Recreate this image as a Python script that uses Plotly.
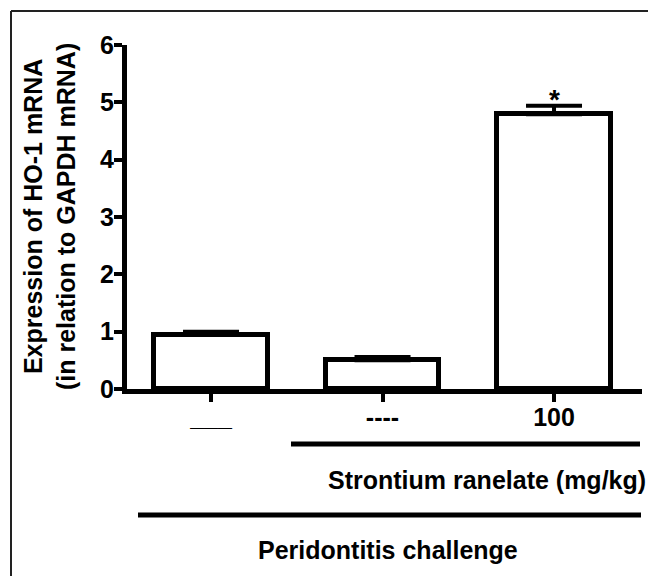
import plotly.graph_objects as go

# ---- data ----
categories = [0, 1, 2]
tick_labels = ["___", "----", "100"]
values = [0.95, 0.50, 4.79]
errors = [0.05, 0.06, 0.15]
y_ticks = [0, 1, 2, 3, 4, 5, 6]
y_title = "Expression of HO-1 mRNA<br>(in relation to GAPDH mRNA)"
strontium_label = "Strontium ranelate (mg/kg)"
challenge_label = "Peridontitis challenge"
star_label = "*"

W, H = 648, 576
L, R, T, B = 127, 6, 45, 187
PW, PH = W - L - R, H - T - B
FONT = "Liberation Sans, Arial, sans-serif"


def px(x):
    return (x - L) / PW


def py(y):
    return (H - B - y) / PH


fig = go.Figure()
fig.add_trace(go.Bar(
    x=categories, y=values, width=0.66,
    marker=dict(color="white", line=dict(color="black", width=5)),
    error_y=dict(type="data", symmetric=False, array=errors,
                 arrayminus=[0] * len(errors),
                 color="black", thickness=4, width=28),
    showlegend=False,
))

axis_font = dict(family=FONT, size=25, color="black", weight="bold")

fig.update_xaxes(
    range=[-0.49, 2.513], tickvals=categories, ticktext=tick_labels,
    showline=True, linecolor="black", linewidth=5,
    ticks="outside", ticklen=8, tickwidth=4, tickcolor="black",
    tickfont=axis_font, ticklabelstandoff=-6,
    showgrid=False, zeroline=False, fixedrange=True,
)
fig.update_yaxes(
    range=[0, 6], tickvals=y_ticks,
    showline=True, linecolor="black", linewidth=5,
    ticks="outside", ticklen=8, tickwidth=4, tickcolor="black",
    tickfont=axis_font, ticklabelstandoff=-5,
    showgrid=False, zeroline=False, fixedrange=True,
)

shapes = [
    # outer frame (left and top)
    dict(type="line", xref="paper", yref="paper", x0=px(11), x1=px(11),
         y0=py(11), y1=py(600), line=dict(color="#222", width=2)),
    dict(type="line", xref="paper", yref="paper", x0=px(11), x1=px(700),
         y0=py(11), y1=py(11), line=dict(color="#222", width=2)),
    # strontium group line
    dict(type="line", xref="paper", yref="paper", x0=px(291), x1=px(640),
         y0=py(444), y1=py(444), line=dict(color="black", width=5)),
    # challenge group line
    dict(type="line", xref="paper", yref="paper", x0=px(138), x1=px(641),
         y0=py(515), y1=py(515), line=dict(color="black", width=5)),
]

annotations = [
    dict(text=y_title, textangle=-90, xref="paper", yref="paper",
         x=px(49), y=py(217), xanchor="center", yanchor="middle",
         showarrow=False, align="center",
         font=dict(family=FONT, size=25, color="black", weight="bold")),
    dict(text=strontium_label, xref="paper", yref="paper",
         x=px(326), y=py(480), xanchor="left", yanchor="middle",
         showarrow=False,
         font=dict(family=FONT, size=25, color="black", weight="bold")),
    dict(text=challenge_label, xref="paper", yref="paper",
         x=px(388), y=py(550), xanchor="center", yanchor="middle",
         showarrow=False,
         font=dict(family=FONT, size=25, color="black", weight="bold")),
    dict(text=star_label, x=categories[2], y=values[2] + errors[2],
         xanchor="center", yanchor="bottom", yshift=-11, showarrow=False,
         font=dict(family=FONT, size=28, color="black", weight="bold")),
]

fig.update_layout(
    width=W, height=H,
    margin=dict(l=L, r=R, t=T, b=B, autoexpand=False),
    paper_bgcolor="white", plot_bgcolor="white",
    shapes=shapes, annotations=annotations,
    bargap=0,
)

fig.write_html(
    "out.html",
    config={"displayModeBar": False},
    post_script="document.body.style.margin='0';document.body.style.overflow='hidden';",
)
